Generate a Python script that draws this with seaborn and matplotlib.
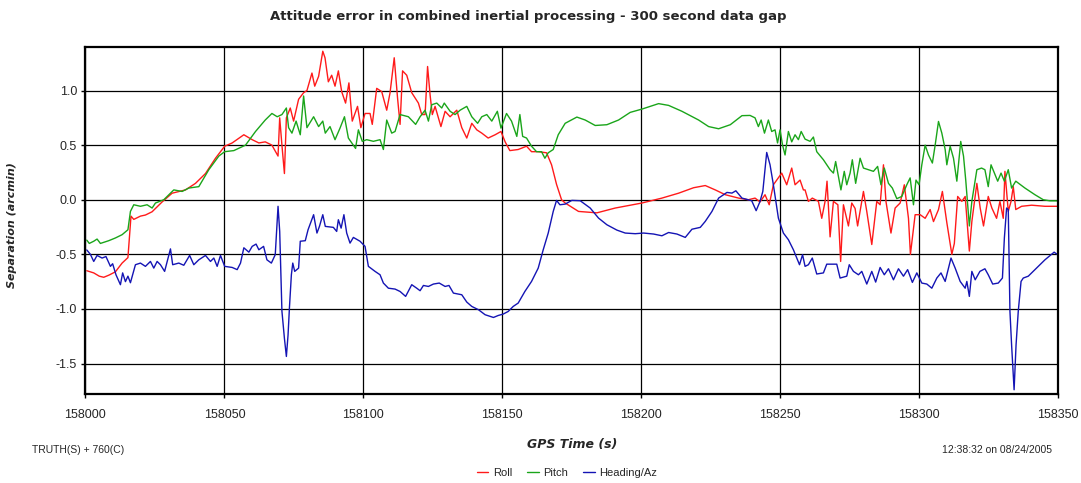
import pandas as pd
import seaborn as sns
import matplotlib.pyplot as plt

# GPS time offsets (s from 158000) and separation values (arcmin)
T0 = 158000

roll_t = [0.5, 3.0, 5.0, 6.6, 8.5, 10.8, 13.2, 15.3, 16.4, 17.4, 19.8, 21.6, 24.0, 27.6, 31.2, 36.0,
          39.6, 43.2, 46.8, 50.1, 52.8, 57.0, 60.0, 62.4, 64.7, 67.1, 69.3, 69.9, 70.7, 71.6, 72.3,
          73.7, 74.9, 76.7, 78.5, 79.7, 81.5, 82.5, 83.9, 85.4, 86.2, 87.4, 88.6, 89.8, 91.0, 92.2,
          93.6, 94.8, 96.0, 97.9, 99.1, 100.6, 102.4, 103.2, 104.8, 106.6, 108.4, 109.6, 111.1,
          112.3, 113.2, 114.1, 115.6, 117.4, 119.8, 121.0, 122.2, 123.1, 124.0, 124.8, 125.8, 127.9,
          129.4, 131.2, 133.6, 135.4, 137.2, 139.0, 140.8, 142.6, 144.9, 147.4, 149.5, 151.0, 152.7,
          155.7, 158.7, 160.5, 162.9, 165.9, 167.7, 169.5, 171.3, 172.6, 177.4, 184.0, 190.6, 200.2,
          207.4, 213.4, 218.8, 223.0, 226.6, 230.2, 235.0, 238.5, 240.9, 242.7, 244.5, 246.0, 247.5,
          250.5, 252.3, 254.1, 255.3, 257.1, 258.3, 258.9, 260.1, 261.5, 263.7, 264.9, 266.1, 266.8,
          267.9, 269.1, 270.7, 271.7, 272.7, 274.5, 275.7, 276.9, 277.8, 279.9, 281.1, 282.9, 284.7,
          285.9, 287.1, 288.0, 289.8, 291.3, 293.1, 294.6, 296.1, 296.8, 298.5, 300.3, 302.1, 303.9,
          305.1, 306.9, 308.3, 309.9, 311.7, 312.6, 313.8, 315.3, 316.5, 318.0, 318.9, 320.7, 321.9,
          323.1, 324.8, 326.1, 327.8, 329.0, 330.2, 330.8, 332.0, 333.0, 333.8, 334.7, 336.8, 340.4,
          345.2, 349.6]
roll = [-0.65, -0.67, -0.70, -0.71, -0.69, -0.66, -0.58, -0.53, -0.15, -0.18, -0.15, -0.14, -0.11,
        -0.02, 0.06, 0.09, 0.15, 0.24, 0.38, 0.49, 0.52, 0.595, 0.55, 0.52, 0.53, 0.50, 0.40, 0.75,
        0.50, 0.24, 0.75, 0.84, 0.72, 0.92, 0.98, 1.0, 1.16, 1.04, 1.13, 1.36, 1.30, 1.08, 1.14, 1.04,
        1.18, 0.99, 0.885, 1.07, 0.72, 0.855, 0.66, 0.79, 0.79, 0.69, 1.02, 0.99, 0.82, 0.98, 1.30,
        0.93, 0.69, 1.18, 1.14, 0.98, 0.885, 0.78, 0.78, 1.22, 0.96, 0.78, 0.855, 0.67, 0.81, 0.76,
        0.82, 0.66, 0.565, 0.70, 0.64, 0.61, 0.565, 0.595, 0.625, 0.53, 0.45, 0.46, 0.49, 0.44, 0.44,
        0.43, 0.32, 0.14, 0.0, -0.03, -0.107, -0.12, -0.076, -0.03, 0.015, 0.06, 0.11, 0.13, 0.09,
        0.046, 0.015, 0.0, 0.015, -0.02, 0.046, -0.046, 0.137, 0.244, 0.137, 0.29, 0.137, 0.18, 0.09,
        0.09, -0.015, 0.015, -0.015, -0.17, -0.015, 0.17, -0.34, -0.015, -0.046, -0.565, -0.046,
        -0.24, -0.03, -0.08, -0.24, 0.076, -0.107, -0.41, -0.015, -0.046, 0.32, -0.015, -0.305,
        -0.076, -0.03, 0.137, -0.17, -0.50, -0.137, -0.137, -0.17, -0.09, -0.2, -0.09, 0.076, -0.21,
        -0.50, -0.40, 0.03, -0.015, 0.03, -0.47, -0.2, 0.15, -0.076, -0.24, 0.03, -0.076, -0.17,
        -0.015, -0.17, 0.26, -0.107, -0.015, 0.12, -0.09, -0.06, -0.05, -0.06, -0.06]

pitch_t = [0.5, 1.4, 3.0, 4.2, 5.4, 8.4, 10.8, 13.2, 15.3, 16.2, 17.4, 19.8, 22.2, 24.0, 25.2, 28.2,
           31.8, 34.8, 37.2, 40.8, 44.4, 48.0, 50.1, 53.4, 57.6, 61.2, 64.7, 67.1, 69.0, 70.7, 72.3,
           73.1, 74.3, 75.8, 77.3, 78.5, 79.7, 82.1, 83.9, 85.4, 86.3, 88.0, 89.8, 91.6, 93.2, 94.6,
           97.2, 98.2, 99.6, 101.2, 103.6, 106.0, 107.2, 108.4, 110.2, 111.4, 113.2, 116.2, 118.8,
           120.4, 122.2, 123.4, 124.6, 126.4, 128.2, 129.1, 131.2, 133.0, 134.8, 137.2, 139.0, 141.1,
           142.6, 144.4, 146.2, 148.2, 149.5, 151.5, 153.3, 155.2, 156.3, 157.3, 158.7, 160.5, 162.3,
           164.1, 165.3, 166.5, 168.3, 170.1, 172.6, 176.8, 179.8, 183.4, 187.6, 191.8, 196.0, 200.2,
           206.2, 209.8, 214.6, 220.6, 224.2, 227.8, 232.0, 236.2, 239.1, 240.9, 242.1, 243.1, 244.3,
           245.7, 246.9, 248.1, 249.0, 249.9, 250.8, 251.7, 252.9, 254.1, 255.3, 256.5, 257.5, 258.9,
           260.7, 261.9, 263.1, 265.5, 267.9, 269.1, 269.9, 270.9, 271.8, 273.0, 273.9, 275.1, 275.9,
           277.1, 278.7, 279.9, 281.7, 283.5, 285.0, 286.2, 287.4, 288.9, 290.3, 291.9, 293.7, 295.5,
           296.7, 297.9, 298.8, 299.9, 300.9, 302.1, 303.3, 304.7, 305.7, 306.9, 308.1, 309.3, 309.9,
           311.1, 312.3, 313.5, 314.9, 315.9, 316.7, 318.0, 318.9, 320.7, 322.4, 323.6, 324.8, 325.8,
           327.0, 328.2, 329.4, 330.6, 332.0, 333.2, 334.7, 338.0, 341.6, 344.6, 347.0, 349.6]
pitch = [-0.37, -0.40, -0.38, -0.36, -0.40, -0.375, -0.35, -0.32, -0.275, -0.107, -0.046, -0.06,
         -0.046, -0.076, -0.03, 0.0, 0.09, 0.076, 0.107, 0.12, 0.275, 0.40, 0.44, 0.45, 0.50, 0.625,
         0.73, 0.79, 0.76, 0.78, 0.84, 0.66, 0.61, 0.72, 0.595, 0.95, 0.66, 0.76, 0.67, 0.72, 0.61,
         0.67, 0.55, 0.656, 0.76, 0.565, 0.47, 0.64, 0.535, 0.55, 0.535, 0.55, 0.46, 0.73, 0.61, 0.625,
         0.78, 0.76, 0.69, 0.76, 0.82, 0.72, 0.87, 0.885, 0.84, 0.885, 0.81, 0.78, 0.82, 0.855, 0.76,
         0.70, 0.76, 0.78, 0.72, 0.81, 0.656, 0.79, 0.72, 0.58, 0.78, 0.58, 0.565, 0.49, 0.44, 0.44,
         0.38, 0.43, 0.46, 0.595, 0.70, 0.757, 0.73, 0.68, 0.687, 0.73, 0.80, 0.83, 0.88, 0.864, 0.81,
         0.73, 0.67, 0.65, 0.687, 0.77, 0.772, 0.75, 0.67, 0.73, 0.61, 0.73, 0.625, 0.64, 0.52, 0.64,
         0.50, 0.41, 0.625, 0.53, 0.595, 0.55, 0.625, 0.555, 0.535, 0.574, 0.44, 0.366, 0.275, 0.244,
         0.35, 0.214, 0.09, 0.26, 0.137, 0.244, 0.366, 0.15, 0.38, 0.29, 0.275, 0.26, 0.305, 0.137,
         0.29, 0.15, 0.107, 0.01, 0.03, 0.137, 0.2, -0.046, 0.18, 0.137, 0.32, 0.50, 0.41, 0.336, 0.50,
         0.717, 0.61, 0.46, 0.32, 0.49, 0.38, 0.17, 0.534, 0.40, 0.18, -0.24, -0.015, 0.275, 0.29,
         0.275, 0.12, 0.32, 0.244, 0.17, 0.244, 0.17, 0.275, 0.107, 0.17, 0.107, 0.046, 0.0, -0.01,
         -0.01]

heading_t = [0.5, 1.8, 3.0, 4.2, 6.0, 7.4, 9.0, 9.8, 11.0, 12.6, 13.4, 14.4, 15.3, 16.2, 18.0, 19.8,
             21.6, 23.4, 24.6, 25.8, 27.0, 28.5, 30.6, 31.4, 33.6, 35.4, 37.5, 39.0, 40.8, 43.2, 45.0,
             46.2, 47.4, 48.6, 50.1, 52.8, 54.6, 55.8, 57.0, 58.8, 60.0, 61.4, 62.4, 64.1, 65.3, 66.9,
             68.3, 69.3, 69.9, 70.7, 71.6, 72.3, 72.9, 73.4, 74.1, 74.6, 75.3, 76.7, 77.3, 79.1, 80.1,
             82.1, 83.3, 84.2, 85.4, 86.3, 89.2, 90.4, 91.0, 92.0, 93.0, 94.0, 95.2, 96.4, 98.8, 100.6,
             101.8, 104.2, 106.0, 107.2, 109.0, 111.4, 113.2, 115.2, 117.4, 119.2, 120.4, 121.6, 123.4,
             125.2, 127.3, 129.4, 130.8, 132.4, 134.2, 135.4, 137.2, 139.0, 141.4, 143.8, 146.8, 148.5,
             150.3, 152.1, 153.9, 155.7, 158.1, 160.5, 162.9, 164.7, 166.5, 168.3, 169.5, 170.7, 172.6,
             175.0, 178.0, 181.6, 184.6, 187.6, 191.2, 194.2, 197.8, 200.8, 204.4, 207.4, 209.8, 212.8,
             215.8, 218.2, 221.2, 223.0, 225.4, 227.8, 230.8, 232.6, 234.0, 236.2, 239.7, 241.3, 242.7,
             243.7, 245.1, 246.3, 247.5, 249.3, 251.1, 252.9, 254.7, 256.9, 258.0, 258.9, 260.1, 261.5,
             263.1, 265.5, 266.7, 270.3, 271.5, 273.9, 274.8, 276.3, 278.1, 279.3, 281.1, 282.9, 284.3,
             285.9, 287.4, 288.9, 290.7, 292.5, 294.3, 295.8, 297.5, 299.1, 300.9, 302.7, 304.5, 306.3,
             307.8, 309.3, 311.4, 312.9, 314.7, 316.5, 317.1, 318.0, 318.9, 320.1, 321.8, 323.6, 324.8,
             326.4, 328.4, 329.9, 330.6, 331.4, 332.0, 332.6, 333.2, 334.1, 334.8, 335.6, 336.6, 337.4,
             339.2, 341.6, 343.4, 345.2, 348.5, 349.6]
heading = [-0.46, -0.50, -0.565, -0.51, -0.534, -0.52, -0.61, -0.586, -0.687, -0.778, -0.67, -0.75,
           -0.70, -0.76, -0.595, -0.58, -0.61, -0.565, -0.626, -0.565, -0.595, -0.656, -0.45, -0.595,
           -0.58, -0.60, -0.51, -0.595, -0.55, -0.51, -0.565, -0.534, -0.61, -0.51, -0.61, -0.62,
           -0.64, -0.58, -0.44, -0.48, -0.427, -0.406, -0.458, -0.427, -0.55, -0.58, -0.503, -0.06,
           -0.29, -1.02, -1.27, -1.435, -1.24, -0.99, -0.687, -0.58, -0.656, -0.626, -0.38, -0.375,
           -0.275, -0.137, -0.305, -0.244, -0.137, -0.244, -0.253, -0.29, -0.183, -0.26, -0.137,
           -0.305, -0.397, -0.345, -0.38, -0.427, -0.61, -0.656, -0.687, -0.763, -0.81, -0.818, -0.84,
           -0.885, -0.778, -0.81, -0.833, -0.785, -0.794, -0.772, -0.763, -0.794, -0.785, -0.855,
           -0.864, -0.87, -0.937, -0.977, -1.007, -1.053, -1.078, -1.06, -1.047, -1.023, -0.977,
           -0.946, -0.84, -0.748, -0.626, -0.458, -0.305, -0.107, -0.006, -0.046, -0.04, -0.006,
           -0.009, -0.076, -0.168, -0.229, -0.278, -0.305, -0.311, -0.305, -0.314, -0.33, -0.30,
           -0.314, -0.345, -0.27, -0.253, -0.198, -0.107, 0.015, 0.067, 0.061, 0.082, 0.015, -0.009,
           -0.1, -0.015, 0.076, 0.433, 0.32, 0.137, -0.168, -0.305, -0.366, -0.458, -0.595, -0.503,
           -0.61, -0.595, -0.534, -0.68, -0.67, -0.59, -0.59, -0.717, -0.70, -0.595, -0.656, -0.687,
           -0.656, -0.772, -0.656, -0.754, -0.62, -0.687, -0.632, -0.733, -0.632, -0.70, -0.64,
           -0.757, -0.67, -0.763, -0.772, -0.81, -0.717, -0.67, -0.748, -0.534, -0.626, -0.748, -0.81,
           -0.748, -0.885, -0.656, -0.733, -0.656, -0.632, -0.687, -0.772, -0.763, -0.717, -0.35,
           -0.076, -0.09, -1.02, -1.33, -1.74, -1.33, -1.02, -0.748, -0.717, -0.70, -0.64, -0.595,
           -0.55, -0.48, -0.50]

x_ticks = [158000, 158050, 158100, 158150, 158200, 158250, 158300, 158350]
y_ticks = [-1.5, -1.0, -0.5, 0.0, 0.5, 1.0]

# Long-format table for seaborn
frames = []
for name, t, v in [("Roll", roll_t, roll), ("Pitch", pitch_t, pitch), ("Heading/Az", heading_t, heading)]:
    frames.append(pd.DataFrame({"time": [T0 + x for x in t], "sep": v, "series": name}))
df = pd.concat(frames, ignore_index=True)

sns.set_style("white")
plt.rcParams['font.family'] = ['Liberation Sans', 'DejaVu Sans']

fig = plt.figure(figsize=(10.81, 4.83), dpi=100)
ax = fig.add_axes([0.079, 0.184, 0.9, 0.719])

sns.lineplot(data=df, x="time", y="sep", hue="series", estimator=None, sort=False,
             palette={"Roll": "#ff1a1a", "Pitch": "#1aa51a", "Heading/Az": "#1414b4"},
             linewidth=1.0, ax=ax)

ax.set_xlim(158000, 158350)
ax.set_ylim(-1.78, 1.40)
ax.set_xticks(x_ticks)
ax.set_yticks(y_ticks)
ax.set_yticklabels([f"{v:.1f}" for v in y_ticks])
ax.grid(True, color="black", linewidth=0.9)
ax.set_axisbelow(True)
ax.tick_params(axis="x", direction="out", length=3, width=1, color="black", pad=8, labelsize=9,
               bottom=True)
ax.tick_params(axis="y", direction="out", length=3, width=1, color="black", pad=3, labelsize=9,
               left=True)
for s in ax.spines.values():
    s.set_visible(True)
    s.set_color("black")
    s.set_linewidth(1.6)

ax.set_xlabel("GPS Time (s)", fontsize=9, fontweight="bold", fontstyle="italic", family="DejaVu Sans")
ax.xaxis.set_label_coords(0.5, -0.126)
ax.set_ylabel("Separation (arcmin)", fontsize=8, fontweight="bold", fontstyle="italic", family="DejaVu Sans")
ax.yaxis.set_label_coords(-0.07, 0.486)

fig.text(0.4885, 0.966, "Attitude error in combined inertial processing - 300 second data gap",
         ha="center", va="center", fontsize=9.5, fontweight="bold", family="DejaVu Sans")
fig.text(0.03, 0.068, "TRUTH(S) + 760(C)", ha="left", va="center", fontsize=7.5)
fig.text(0.973, 0.068, "12:38:32 on 08/24/2005", ha="right", va="center", fontsize=7.5)

sns.move_legend(ax, "center", bbox_to_anchor=(0.495, -0.228), ncol=3, frameon=False, title=None,
                fontsize=8, handlelength=1.0, handletextpad=0.4, columnspacing=1.4)

plt.savefig("out.png", dpi=100)
